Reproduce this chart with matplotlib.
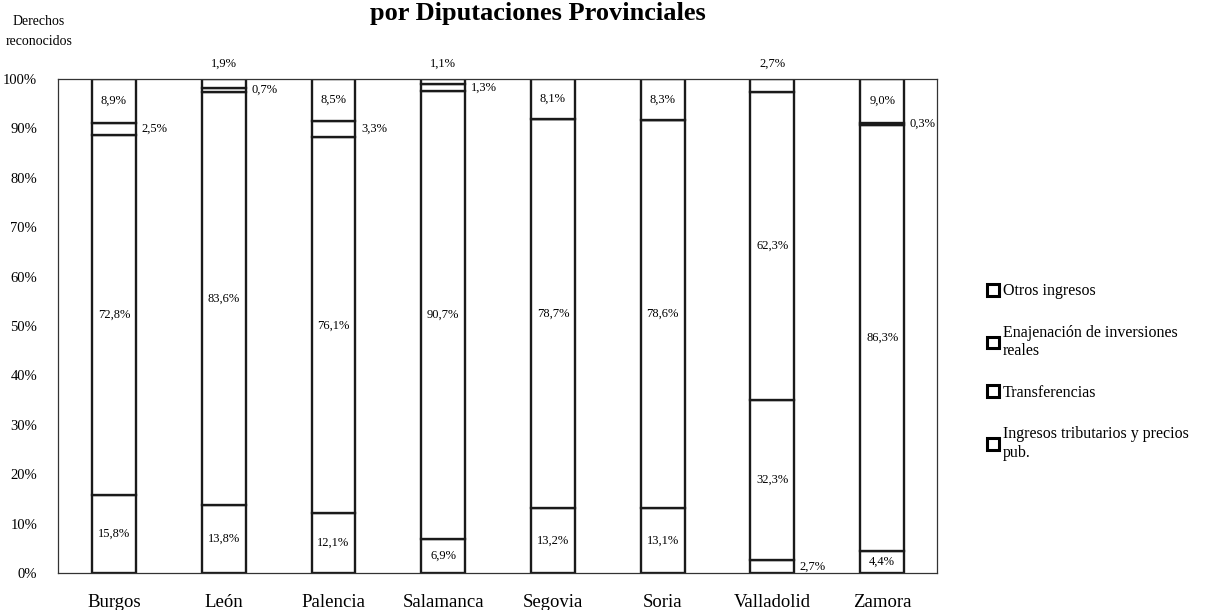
import matplotlib
matplotlib.use("Agg")
import matplotlib.pyplot as plt
import numpy as np
from matplotlib.patches import Patch

plt.rcParams['font.family'] = ['Liberation Serif', 'DejaVu Serif']

provincias = ['Burgos', 'León', 'Palencia', 'Salamanca', 'Segovia', 'Soria', 'Valladolid', 'Zamora']
# stacked from bottom to top
tributarios = [15.8, 13.8, 12.1, 6.9, 13.2, 13.1, 2.7, 4.4]
transferencias = [72.8, 83.6, 76.1, 90.7, 78.7, 78.6, 32.3, 86.3]
enajenacion = [2.5, 0.7, 3.3, 1.3, 0.0, 0.0, 62.3, 0.3]
otros = [8.9, 1.9, 8.5, 1.1, 8.1, 8.3, 2.7, 9.0]

series = [tributarios, transferencias, enajenacion, otros]
nombres = ['Ingresos tributarios y precios\npub.', 'Transferencias',
           'Enajenación de inversiones\nreales', 'Otros ingresos']


def fmt(v):
    return f'{v:.1f}%'.replace('.', ',')


fig = plt.figure(figsize=(12.16, 6.10), dpi=100)
ax = fig.add_axes([0.0477, 0.0607, 0.7229, 0.8098])

x = np.arange(len(provincias))
w = 0.4
bottom = np.zeros(len(provincias))
for s, vals in enumerate(series):
    vals = np.array(vals)
    ax.bar(x, vals, w, bottom=bottom, color='white', edgecolor='#1a1a1a', linewidth=1.7, zorder=2)
    for i, v in enumerate(vals):
        if v == 0:
            continue
        mid = bottom[i] + v / 2
        if v >= 4:
            ax.text(x[i], mid, fmt(v), ha='center', va='center', fontsize=9, zorder=3)
        elif s == len(series) - 1 and v < 2.8:
            ax.text(x[i], 101.8, fmt(v), ha='center', va='bottom', fontsize=9, clip_on=False)
        else:
            ax.text(x[i] + w / 2 + 0.05, mid, fmt(v), ha='left', va='center', fontsize=9)
    bottom += vals

ax.set_xlim(-0.51, 7.5)
ax.set_ylim(0, 100)
ax.set_yticks(np.arange(0, 101, 10))
ax.set_yticklabels([f'{t}%' for t in range(0, 101, 10)], fontsize=10.5)
ax.set_xticks(x)
ax.set_xticklabels(provincias, fontsize=13.5)
ax.tick_params(axis='x', length=0, pad=15)
ax.tick_params(axis='y', length=0, pad=15)
for sp in ax.spines.values():
    sp.set_linewidth(0.9)
    sp.set_color('#333333')

fig.text(0.032, 0.965, 'Derechos', ha='center', va='center', fontsize=10)
fig.text(0.032, 0.932, 'reconocidos', ha='center', va='center', fontsize=10)
fig.text(0.442, 0.978, 'por Diputaciones Provinciales', ha='center', va='center',
         fontsize=19, fontweight='bold')

handles = [Patch(facecolor='white', edgecolor='black', linewidth=2.2, label=n) for n in nombres]
leg = fig.legend(handles[::-1], nombres[::-1], loc='center left', bbox_to_anchor=(0.8, 0.39),
                 frameon=False, fontsize=11.5, labelspacing=1.6, handlelength=0.75,
                 handleheight=0.75, handletextpad=0.25)

fig.savefig('out.png', dpi=100)
